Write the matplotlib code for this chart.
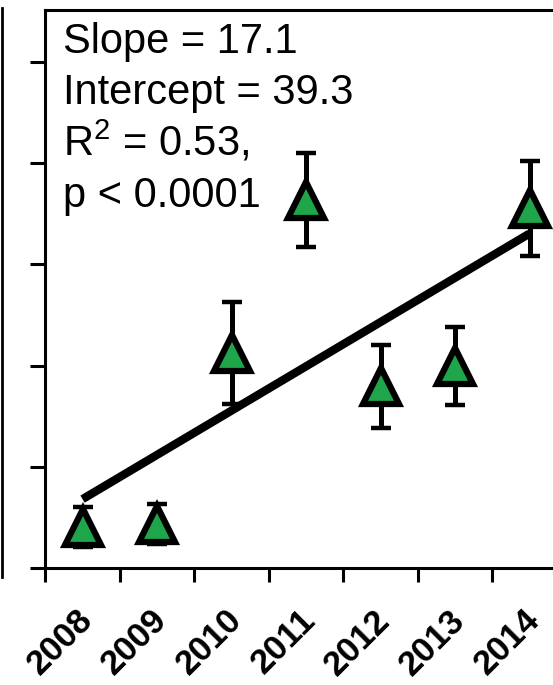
import numpy as np
import matplotlib
matplotlib.use("Agg")
import matplotlib.pyplot as plt
from matplotlib.lines import Line2D
from matplotlib.transforms import ScaledTranslation

plt.rcParams["font.family"] = ["Liberation Sans", "DejaVu Sans"]
plt.rcParams["mathtext.fontset"] = "custom"
plt.rcParams["mathtext.rm"] = "Liberation Sans"
plt.rcParams["mathtext.it"] = "Liberation Sans"
plt.rcParams["mathtext.bf"] = "Liberation Sans:bold"

# ---- data (y in arbitrary units) ----
years = ["2008", "2009", "2010", "2011", "2012", "2013", "2014"]
means = [16.2, 17.4, 85.0, 145.5, 71.9, 79.8, 142.3]
errs = [7.9, 8.0, 20.2, 18.6, 16.4, 15.4, 18.8]
stats_lines = ["Slope = 17.1", "Intercept = 39.3", r"R$\mathregular{^2}$ = 0.53,", "p < 0.0001"]

GREEN = "#1fa64b"
W, H = 553, 685

fig = plt.figure(figsize=(W / 100, H / 100), dpi=100)
# axes is wider than the figure: the right spine is cropped off in the reference
ax = fig.add_axes([45.3 / W, 1 - 568 / H, 521.5 / W, 558 / H])

x = np.arange(len(years))
m = np.array(means)

# linear fit through the yearly means
k, b = np.polyfit(x, m, 1)
ax.plot(x, k * x + b, color="black", lw=6, solid_capstyle="butt", zorder=2)

ax.errorbar(x, m, yerr=errs, fmt="none", ecolor="black", elinewidth=3.6,
            capsize=7.5, capthick=3.2, zorder=3)
ax.plot(x, m, ls="none", marker="^", ms=26, mfc=GREEN, mec="black", mew=4.5,
        zorder=4)

ax.set_xlim(-0.5, 6.5)
ax.set_ylim(0, 220.6)
ax.set_yticks(np.arange(0, 201, 40))
ax.tick_params(axis="y", which="major", direction="out", length=11, width=2.2,
               labelleft=False)

# ticks on the boundaries, labels at the category centres
ax.set_xticks(np.arange(-0.5, 7, 1.0))
ax.set_xticklabels([])
ax.tick_params(axis="x", which="major", direction="out", length=10, width=2.2)
ax.set_xticks(x, minor=True)
ax.set_xticklabels(years, minor=True, rotation=45, ha="right", va="top",
                   rotation_mode="anchor", fontsize=25, fontweight="bold")
ax.tick_params(axis="x", which="minor", length=0, pad=25.5)
for lab in ax.get_xticklabels(minor=True):
    lab.set_transform(lab.get_transform() + ScaledTranslation(-0.07, 0, fig.dpi_scale_trans))

for side in ["left", "bottom", "top", "right"]:
    ax.spines[side].set_linewidth(2.2)

for i, line in enumerate(stats_lines):
    fig.text(63 / W, 1 - (53 + 51.3 * i) / H, line, fontsize=30,
             ha="left", va="baseline")

# edge of the neighbouring panel on the left
fig.add_artist(Line2D([2 / W, 2 / W], [1 - 8 / H, 1 - 577 / H], color="black", lw=2))

fig.savefig("out.png", dpi=100)
